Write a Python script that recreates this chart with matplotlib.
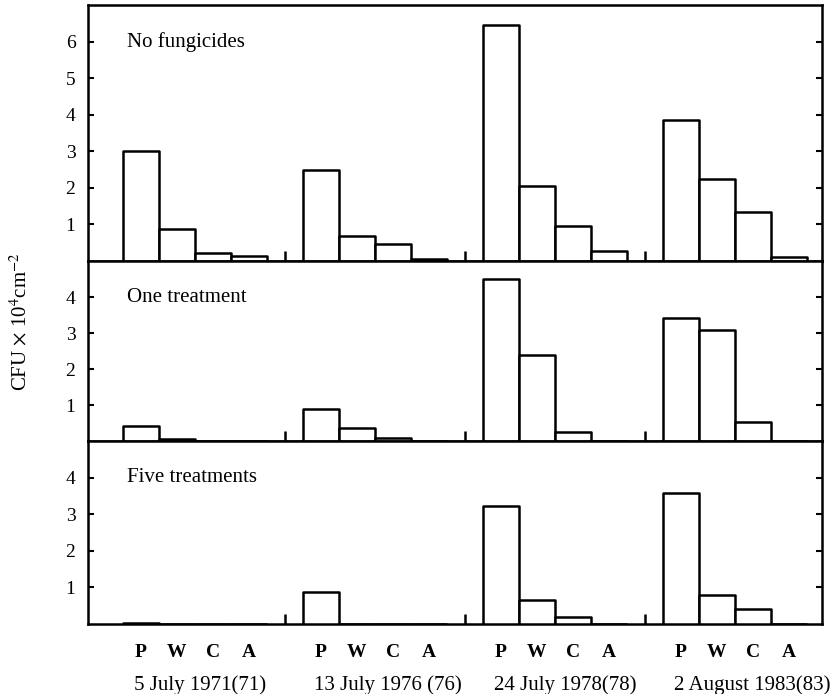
import matplotlib
matplotlib.use("Agg")
import matplotlib.pyplot as plt
from matplotlib.transforms import blended_transform_factory

# ---- data (CFU x 10^4 cm^-2) --------------------------------------------- #
categories = ["P", "W", "C", "A"]
dates = ["5 July 1971(71)", "13 July 1976 (76)", "24 July 1978(78)",
         "2 August 1983(83)"]
panel_names = ["No fungicides", "One treatment", "Five treatments"]

# one row per sampling date, columns P W C A
no_fungicides = [[3.00, 0.88, 0.21, 0.15],
                 [2.50, 0.69, 0.46, 0.05],
                 [6.45, 2.06, 0.96, 0.28],
                 [3.86, 2.23, 1.33, 0.10]]
one_treatment = [[0.42, 0.06, 0.00, 0.00],
                 [0.89, 0.37, 0.07, 0.00],
                 [4.49, 2.38, 0.26, 0.00],
                 [3.42, 3.07, 0.53, 0.00]]
five_treatments = [[0.04, 0.00, 0.00, 0.00],
                   [0.87, 0.00, 0.00, 0.00],
                   [3.23, 0.66, 0.18, 0.00],
                   [3.58, 0.79, 0.40, 0.00]]

panel_data = [no_fungicides, one_treatment, five_treatments]
y_max = [7, 5, 5]
y_ticks = [[1, 2, 3, 4, 5, 6], [1, 2, 3, 4], [1, 2, 3, 4]]

plt.rcParams.update({
    "font.family": "serif",
    "font.serif": ["Liberation Serif", "DejaVu Serif"],
    "mathtext.fontset": "stix",
    "axes.linewidth": 1.8,
})

GAP = 5  # slots per date group (4 bars + one empty)
LW = 1.8

fig = plt.figure(figsize=(8.37, 6.94), dpi=100)
left, right = 88 / 837, 822 / 837
tops = [689, 433, 253]
bots = [433, 253, 70]
axes = []
for i in range(3):
    ax = fig.add_axes([left, bots[i] / 694, right - left,
                       (tops[i] - bots[i]) / 694])
    axes.append(ax)

for ax, data, name, ym, yt in zip(axes, panel_data, panel_names, y_max,
                                  y_ticks):
    for g, vals in enumerate(data):
        xs = [g * GAP + k for k in range(len(categories))]
        ax.bar(xs, vals, width=1.0, facecolor="white", edgecolor="black",
               linewidth=LW, joinstyle="round", zorder=3)
    ax.set_xlim(-1.47, 18.92)
    ax.set_ylim(0, ym)
    ax.set_yticks(yt)
    ax.set_yticklabels([str(t) for t in yt])
    ax.tick_params(axis="y", direction="in", length=4, width=1.5,
                   right=True, labelsize=14, pad=9)
    ax.set_xticks([g * GAP - 1 for g in range(1, len(dates))])
    ax.set_xticklabels([])
    ax.tick_params(axis="x", direction="in", length=7, width=1.8)
    ax.text(-0.39, yt[-1], name, fontsize=15, va="center", ha="left")

# category and date labels under the bottom panel
ax = axes[-1]
trans = blended_transform_factory(ax.transData, ax.transAxes)
for g, d in enumerate(dates):
    for k, c in enumerate(categories):
        ax.text(g * GAP + k, -0.155, c, transform=trans, ha="center",
                va="center", fontsize=14, fontweight="bold")
    ax.text(g * GAP - 0.2, -0.335, d, transform=trans, ha="left",
            va="center", fontsize=15)

fig.text(0.024, 0.537, r"CFU $\times$ 10$^4$cm$^{-2}$", rotation=90,
         ha="center", va="center", fontsize=15)

fig.savefig("out.png", dpi=100, facecolor="white")
